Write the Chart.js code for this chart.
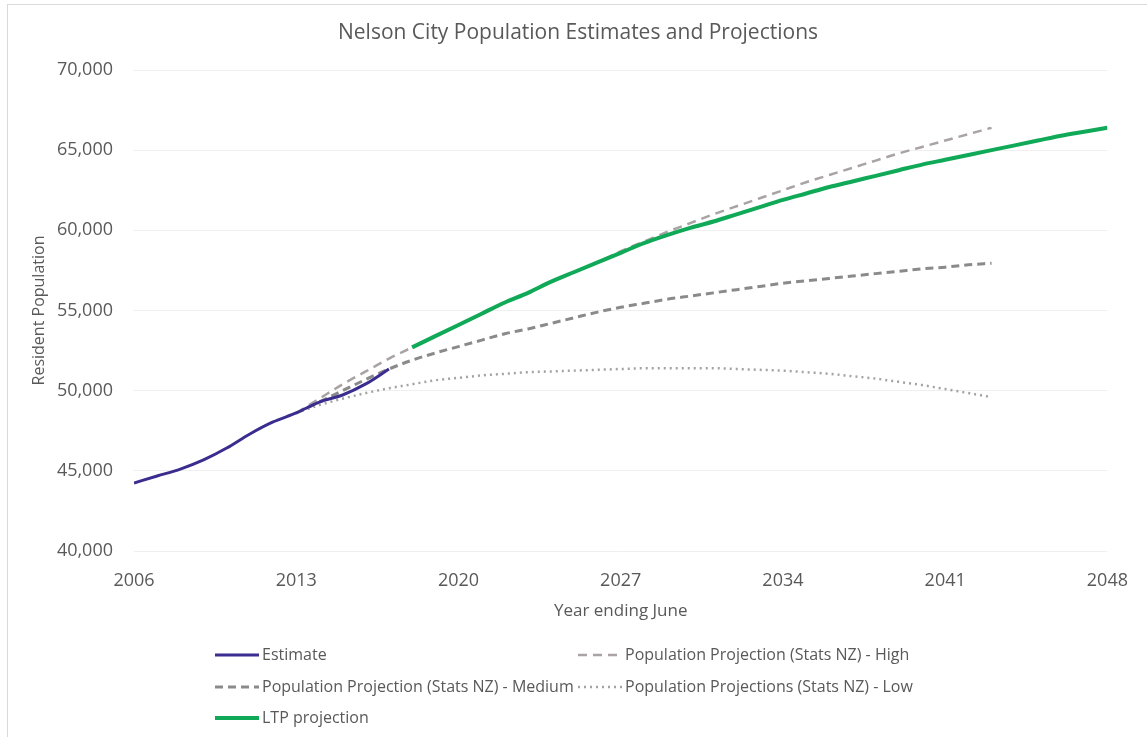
<!DOCTYPE html>
<html>
<head>
<meta charset="utf-8">
<script src="https://cdn.jsdelivr.net/npm/chart.js@4"></script>
<style>
  html, body { margin: 0; padding: 0; background: #ffffff; }
  canvas { display: block; }
</style>
</head>
<body>
<canvas id="popChart" width="1147" height="737"></canvas>
<script>
// Resident population, year ending June
const estimateYears  = [2006, 2007, 2008, 2009, 2010, 2011, 2012, 2013, 2014, 2015, 2016, 2017];
const estimateValues = [44240, 44680, 45110, 45680, 46420, 47300, 48050, 48610, 49290, 49730, 50420, 51350];

const projectionYears = [2013, 2014, 2015, 2016, 2017, 2018, 2019, 2020, 2021, 2022, 2023, 2024, 2025, 2026, 2027,
                         2028, 2029, 2030, 2031, 2032, 2033, 2034, 2035, 2036, 2037, 2038, 2039, 2040, 2041, 2042, 2043];
const highValues   = [48600, 49500, 50400, 51200, 52000, 52700, 53400, 54100, 54800, 55500, 56100, 56800, 57400, 58000, 58700,
                      59300, 59900, 60450, 61000, 61500, 62000, 62500, 63000, 63450, 63900, 64350, 64800, 65200, 65600, 66000, 66400];
const mediumValues = [48600, 49300, 50000, 50700, 51350, 51900, 52350, 52750, 53150, 53550, 53850, 54200, 54550, 54900, 55200,
                      55450, 55700, 55900, 56100, 56300, 56500, 56700, 56850, 57000, 57150, 57300, 57450, 57600, 57700, 57850, 57950];
const lowValues    = [48600, 49100, 49500, 49850, 50150, 50400, 50650, 50800, 50950, 51050, 51150, 51200, 51250, 51300, 51350,
                      51400, 51400, 51400, 51400, 51350, 51300, 51250, 51150, 51050, 50900, 50750, 50550, 50350, 50100, 49850, 49600];

const ltpYears  = [2018, 2019, 2020, 2021, 2022, 2023, 2024, 2025, 2026, 2027, 2028, 2029, 2030, 2031, 2032, 2033,
                   2034, 2035, 2036, 2037, 2038, 2039, 2040, 2041, 2042, 2043, 2044, 2045, 2046, 2047, 2048];
const ltpValues = [52700, 53400, 54100, 54800, 55500, 56100, 56800, 57400, 58000, 58600, 59200, 59700, 60150, 60550, 61000, 61450,
                   61900, 62300, 62700, 63050, 63400, 63750, 64100, 64400, 64700, 65000, 65300, 65600, 65900, 66150, 66400];

const seriesLabels = [
  'Estimate',
  'Population Projection (Stats NZ) - High',
  'Population Projection (Stats NZ) - Medium',
  'Population Projections (Stats NZ) - Low',
  'LTP projection'
];

const chartTitle = 'Nelson City Population Estimates and Projections';
const xTickYears = [2006, 2013, 2020, 2027, 2034, 2041, 2048];

const zip = (xs, ys) => xs.map((x, i) => ({ x: x, y: ys[i] }));

const TEXT = '#595959';
const FONT = "'Open Sans', 'Liberation Sans', sans-serif";

// Chart heading, centred over the whole figure
const headingPlugin = {
  id: 'heading',
  afterDraw(chart) {
    const ctx = chart.ctx;
    ctx.save();
    ctx.font = '21px ' + FONT;
    ctx.fillStyle = TEXT;
    ctx.textAlign = 'center';
    ctx.textBaseline = 'middle';
    ctx.fillText(chartTitle, 578, 33);
    ctx.restore();
  }
};

// Legend drawn beneath the axis title, two columns
const legendPlugin = {
  id: 'bottomLegend',
  afterDraw(chart) {
    const ctx = chart.ctx;
    const slots = [
      { ds: 0, x: 215, y: 655 },
      { ds: 1, x: 578, y: 655 },
      { ds: 2, x: 215, y: 687 },
      { ds: 3, x: 578, y: 687 },
      { ds: 4, x: 215, y: 718 }
    ];
    ctx.save();
    ctx.font = '16px ' + FONT;
    ctx.textBaseline = 'middle';
    ctx.textAlign = 'left';
    slots.forEach(s => {
      const d = chart.data.datasets[s.ds];
      ctx.beginPath();
      ctx.setLineDash(d.borderDash || []);
      ctx.lineWidth = d.borderWidth;
      ctx.strokeStyle = d.borderColor;
      ctx.lineCap = 'butt';
      ctx.moveTo(s.x, s.y);
      ctx.lineTo(s.x + 44, s.y);
      ctx.stroke();
      ctx.setLineDash([]);
      ctx.fillStyle = TEXT;
      ctx.fillText(d.label, s.x + 47, s.y);
    });
    ctx.restore();
  }
};

// Thin frame round the chart
const framePlugin = {
  id: 'frame',
  beforeDraw(chart) {
    const ctx = chart.ctx;
    ctx.save();
    ctx.fillStyle = '#ffffff';
    ctx.fillRect(0, 0, chart.width, chart.height);
    ctx.strokeStyle = '#d9d9d9';
    ctx.lineWidth = 1;
    ctx.strokeRect(7.5, 4.5, chart.width, chart.height);
    ctx.restore();
  }
};

new Chart(document.getElementById('popChart'), {
  type: 'line',
  data: {
    datasets: [
      {
        label: seriesLabels[0],
        data: zip(estimateYears, estimateValues),
        borderColor: '#3b2d8f',
        borderWidth: 3,
        cubicInterpolationMode: 'monotone',
        pointRadius: 0,
        order: 1
      },
      {
        label: seriesLabels[1],
        data: zip(projectionYears, highValues),
        borderColor: '#a9a3a3',
        borderWidth: 2.5,
        borderDash: [9, 6],
        cubicInterpolationMode: 'monotone',
        pointRadius: 0,
        order: 4
      },
      {
        label: seriesLabels[2],
        data: zip(projectionYears, mediumValues),
        borderColor: '#8a8a8a',
        borderWidth: 3,
        borderDash: [8, 5],
        cubicInterpolationMode: 'monotone',
        pointRadius: 0,
        order: 3
      },
      {
        label: seriesLabels[3],
        data: zip(projectionYears, lowValues),
        borderColor: '#a3a3a3',
        borderWidth: 2.5,
        borderDash: [2, 4],
        cubicInterpolationMode: 'monotone',
        pointRadius: 0,
        order: 2
      },
      {
        label: seriesLabels[4],
        data: zip(ltpYears, ltpValues),
        borderColor: '#10a957',
        borderWidth: 4,
        cubicInterpolationMode: 'monotone',
        pointRadius: 0,
        order: 0
      }
    ]
  },
  options: {
    responsive: false,
    animation: false,
    events: [],
    layout: { padding: { left: 0, right: 32, top: 70, bottom: 116 } },
    plugins: {
      legend: { display: false },
      tooltip: { enabled: false },
      title: { display: false }
    },
    scales: {
      x: {
        type: 'linear',
        min: xTickYears[0],
        max: xTickYears[xTickYears.length - 1],
        afterBuildTicks(scale) {
          scale.ticks = xTickYears.map(v => ({ value: v }));
        },
        afterFit(scale) { scale.height = 70; },
        grid: { display: false, drawTicks: false },
        border: { display: false },
        ticks: {
          color: TEXT,
          font: { family: FONT, size: 18 },
          padding: 19,
          maxRotation: 0,
          callback: v => String(v)
        },
        title: {
          display: true,
          text: 'Year ending June',
          color: TEXT,
          font: { family: FONT, size: 17 },
          padding: { top: 0, bottom: 0 }
        }
      },
      y: {
        min: 40000,
        max: 70000,
        afterFit(scale) { scale.width = 134; },
        grid: { color: '#efefef', lineWidth: 1, drawTicks: false },
        border: { display: false },
        ticks: {
          stepSize: 5000,
          color: TEXT,
          font: { family: FONT, size: 18 },
          padding: 21,
          callback: v => v.toLocaleString('en-US')
        },
        title: {
          display: true,
          text: 'Resident Population',
          color: TEXT,
          font: { family: FONT, size: 16 },
          padding: { top: 30, bottom: 0 }
        }
      }
    }
  },
  plugins: [framePlugin, legendPlugin, headingPlugin]
});
</script>
</body>
</html>
